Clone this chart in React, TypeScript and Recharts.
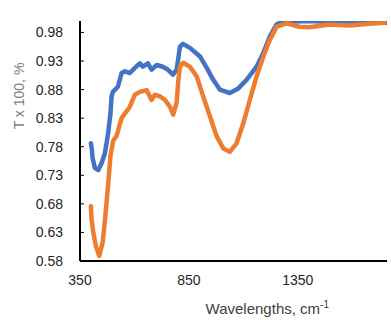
import { LineChart, Line, XAxis, YAxis } from 'recharts';

// wavenumber (cm-1) and transmittance
const blueWave = [400, 405, 407, 418, 434, 449, 464, 479, 490, 495, 501, 524, 541, 556, 579, 602, 625, 639, 662, 679, 702, 730, 753, 777, 794, 809, 823, 855, 901, 932, 962, 992, 1038, 1077, 1115, 1161, 1192, 1222, 1253, 1283, 1340, 1400, 1450, 1500, 1550, 1600, 1650, 1700, 1755];
const blueT = [0.786, 0.774, 0.762, 0.743, 0.739, 0.751, 0.768, 0.803, 0.838, 0.868, 0.876, 0.885, 0.909, 0.912, 0.909, 0.918, 0.926, 0.92, 0.926, 0.915, 0.923, 0.92, 0.915, 0.906, 0.915, 0.955, 0.96, 0.953, 0.938, 0.918, 0.897, 0.88, 0.874, 0.882, 0.897, 0.92, 0.944, 0.973, 0.994, 0.999, 0.999, 1.0, 0.999, 0.999, 0.998, 0.998, 0.998, 0.997, 0.997];

const orangeWave = [400, 403, 411, 423, 438, 454, 465, 479, 490, 502, 518, 541, 556, 579, 602, 625, 656, 679, 694, 717, 740, 763, 778, 794, 801, 809, 824, 855, 886, 916, 947, 978, 1008, 1038, 1069, 1100, 1130, 1161, 1192, 1222, 1253, 1298, 1358, 1404, 1496, 1587, 1679, 1748];
const orangeT = [0.676, 0.653, 0.63, 0.606, 0.589, 0.612, 0.653, 0.712, 0.764, 0.79, 0.799, 0.83, 0.838, 0.85, 0.871, 0.876, 0.879, 0.862, 0.871, 0.868, 0.862, 0.85, 0.836, 0.857, 0.894, 0.92, 0.927, 0.92, 0.903, 0.868, 0.833, 0.798, 0.777, 0.771, 0.786, 0.821, 0.862, 0.903, 0.938, 0.967, 0.99, 0.996, 0.99, 0.989, 0.994, 0.992, 0.995, 0.997];

const xTicks = [350, 850, 1350];
const yTicks = [0.58, 0.63, 0.68, 0.73, 0.78, 0.83, 0.88, 0.93, 0.98];

const blueData = blueWave.map((w, i) => ({ w, t: blueT[i] }));
const orangeData = orangeWave.map((w, i) => ({ w, t: orangeT[i] }));

const font = '"Liberation Sans", Arial, sans-serif';

const XTitle = ({ viewBox }: any) => {
  const cx = viewBox.x + viewBox.width * 0.61;
  return (
    <text x={cx} y={viewBox.y + 53} textAnchor="middle" fontSize={15} fontFamily={font} fill="#404040">
      Wavelengths, cm
      <tspan fontSize={10} dy={-6}>-1</tspan>
    </text>
  );
};

const YTitle = ({ viewBox }: any) => {
  const x = 24;
  const y = viewBox.y + 75;
  return (
    <text x={x} y={y} transform={`rotate(-90 ${x} ${y})`} textAnchor="middle" fontSize={14} fontFamily={font} fill="#7f7f7f">
      T x 100, %
    </text>
  );
};

export default function App() {
  return (
    <div style={{ position: 'absolute', left: 0, top: 0, width: 391, height: 320, background: '#fff' }}>
      <LineChart width={391} height={320} margin={{ top: 21, right: 4, left: 0, bottom: 0 }}>
        <XAxis
          type="number"
          dataKey="w"
          domain={[350, 1760]}
          ticks={xTicks}
          allowDataOverflow
          stroke="#000"
          strokeWidth={2}
          tickLine={false}
          tickSize={0}
          tickMargin={14}
          height={59}
          tick={{ fontSize: 14, fontFamily: font, fill: '#262626' }}
          label={<XTitle />}
        />
        <YAxis
          type="number"
          dataKey="t"
          domain={[0.58, 1.0]}
          ticks={yTicks}
          allowDataOverflow
          width={80}
          stroke="#000"
          strokeWidth={2}
          tickSize={-4}
          tickMargin={21}
          tickLine={{ stroke: '#000', strokeWidth: 1 }}
          tickFormatter={(v: number) => v.toFixed(2)}
          tick={{ fontSize: 14, fontFamily: font, fill: '#262626' }}
          label={<YTitle />}
        />
        <Line data={blueData} dataKey="t" type="linear" stroke="#4472C4" strokeWidth={4.5} strokeLinejoin="round" strokeLinecap="round" dot={false} isAnimationActive={false} />
        <Line data={orangeData} dataKey="t" type="linear" stroke="#ED7D31" strokeWidth={4.5} strokeLinejoin="round" strokeLinecap="round" dot={false} isAnimationActive={false} />
      </LineChart>
    </div>
  );
}
